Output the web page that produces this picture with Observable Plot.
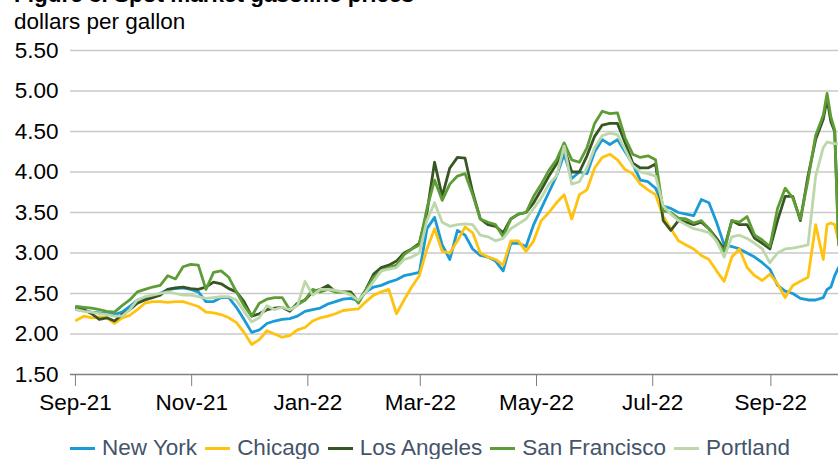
<!DOCTYPE html>
<html>
<head>
<meta charset="utf-8">
<script src="https://cdn.jsdelivr.net/npm/d3@7"></script>
<script src="https://cdn.jsdelivr.net/npm/@observablehq/plot@0.6"></script>
<style>
  html, body { margin: 0; padding: 0; background: #fff; }
  body { width: 838px; height: 459px; position: relative; overflow: hidden; font-family: "Liberation Sans", Arial, sans-serif; }
  #title { position: absolute; left: 14px; top: -17px; font-size: 22.5px; line-height: 24px; font-weight: bold; color: #000; white-space: nowrap; }
  #subtitle { position: absolute; left: 14px; top: 10px; font-size: 22.5px; line-height: 24px; color: #000; white-space: nowrap; }
  #chart { position: absolute; left: 0; top: 35px; }
  #legend { position: absolute; left: 0; width: 860px; top: 436px; display: flex; justify-content: center; font-size: 22.5px; line-height: 24px; color: #44546a; white-space: nowrap; }
  .item { display: flex; align-items: center; margin: 0 4px; }
  .sw { display: inline-block; width: 25px; height: 3px; margin-right: 7px; }
</style>
</head>
<body>
<div id="title">Figure 3. Spot market gasoline prices</div>
<div id="subtitle">dollars per gallon</div>
<div id="chart"></div>
<div id="legend"></div>
<script>
const cities = ["New York", "Chicago", "Los Angeles", "San Francisco", "Portland"];
const colors = ["#1a9ad6", "#ffc20e", "#375623", "#5e9d36", "#bcd8ab"];

const dates = [
  "2021-09-01","2021-09-05","2021-09-09","2021-09-13","2021-09-17","2021-09-21","2021-09-25","2021-09-29",
  "2021-10-03","2021-10-07","2021-10-11","2021-10-15","2021-10-19","2021-10-23","2021-10-27","2021-10-31",
  "2021-11-04","2021-11-08","2021-11-12","2021-11-16","2021-11-20","2021-11-24","2021-11-28",
  "2021-12-02","2021-12-06","2021-12-10","2021-12-14","2021-12-18","2021-12-22","2021-12-26","2021-12-30",
  "2022-01-03","2022-01-07","2022-01-11","2022-01-15","2022-01-19","2022-01-23","2022-01-27","2022-01-31",
  "2022-02-04","2022-02-08","2022-02-12","2022-02-16","2022-02-20","2022-02-24","2022-02-28",
  "2022-03-04","2022-03-08","2022-03-12","2022-03-16","2022-03-20","2022-03-24","2022-03-28",
  "2022-04-01","2022-04-05","2022-04-09","2022-04-13","2022-04-17","2022-04-21","2022-04-25","2022-04-29",
  "2022-05-03","2022-05-07","2022-05-11","2022-05-15","2022-05-19","2022-05-23","2022-05-27","2022-05-31",
  "2022-06-04","2022-06-08","2022-06-12","2022-06-16","2022-06-20","2022-06-24","2022-06-28",
  "2022-07-02","2022-07-06","2022-07-10","2022-07-14","2022-07-18","2022-07-22","2022-07-26","2022-07-30",
  "2022-08-03","2022-08-07","2022-08-11","2022-08-15","2022-08-19","2022-08-23","2022-08-27","2022-08-31",
  "2022-09-04","2022-09-08","2022-09-12","2022-09-16","2022-09-20","2022-09-24","2022-09-28","2022-09-30",
  "2022-10-02","2022-10-04","2022-10-06"
];

const newYork = [
  2.30,2.29,2.27,2.26,2.25,2.24,2.27,2.34,2.42,2.45,
  2.46,2.50,2.55,2.56,2.57,2.55,2.52,2.40,2.40,2.45,
  2.45,2.33,2.18,2.02,2.05,2.13,2.16,2.18,2.19,2.22,
  2.28,2.30,2.32,2.37,2.40,2.43,2.44,2.41,2.52,2.58,
  2.60,2.64,2.67,2.72,2.74,2.76,3.30,3.44,3.10,2.92,
  3.28,3.22,3.05,2.97,2.95,2.90,2.78,3.12,3.12,3.08,
  3.35,3.55,3.75,3.95,4.22,3.92,4.00,3.98,4.25,4.40,
  4.34,4.40,4.25,4.10,3.90,3.88,3.80,3.58,3.55,3.50,
  3.48,3.46,3.66,3.62,3.38,3.10,3.08,3.05,3.00,2.95,
  2.88,2.80,2.60,2.53,2.50,2.44,2.42,2.42,2.45,
  2.55,2.58,2.72,2.82
];
const chicago = [
  2.17,2.22,2.20,2.21,2.20,2.13,2.20,2.23,2.30,2.38,
  2.40,2.40,2.39,2.40,2.40,2.37,2.34,2.27,2.26,2.24,
  2.20,2.14,2.02,1.87,1.93,2.04,2.00,1.96,1.98,2.05,
  2.08,2.16,2.20,2.22,2.25,2.29,2.30,2.31,2.40,2.48,
  2.52,2.55,2.25,2.42,2.58,2.72,3.05,3.30,3.02,3.00,
  3.15,3.32,3.25,3.00,2.95,2.92,2.85,3.15,3.15,3.02,
  3.15,3.40,3.50,3.62,3.72,3.42,3.72,3.78,4.05,4.18,
  4.22,4.15,4.03,3.98,3.85,3.78,3.72,3.45,3.30,3.15,
  3.10,3.05,2.97,2.92,2.78,2.65,2.95,3.05,2.82,2.72,
  2.66,2.74,2.62,2.45,2.60,2.65,2.70,3.35,2.92,
  3.35,3.37,3.35,3.15
];
const losAngeles = [
  2.32,2.30,2.25,2.18,2.20,2.16,2.24,2.30,2.38,2.42,
  2.45,2.48,2.55,2.57,2.58,2.56,2.55,2.58,2.64,2.62,
  2.56,2.52,2.40,2.22,2.25,2.30,2.32,2.33,2.28,2.38,
  2.42,2.52,2.55,2.60,2.52,2.52,2.52,2.40,2.55,2.74,
  2.82,2.85,2.90,3.00,3.05,3.12,3.50,4.12,3.70,4.05,
  4.18,4.17,3.75,3.42,3.35,3.33,3.25,3.42,3.48,3.50,
  3.62,3.78,3.95,4.10,4.30,4.00,4.00,4.20,4.44,4.58,
  4.60,4.60,4.36,4.11,4.05,4.05,4.10,3.40,3.28,3.40,
  3.38,3.35,3.38,3.30,3.18,3.05,3.40,3.35,3.35,3.18,
  3.12,3.05,3.40,3.70,3.70,3.40,3.95,4.40,4.65,
  4.90,4.62,4.50,3.20
];
const sanFrancisco = [
  2.34,2.33,2.32,2.30,2.28,2.27,2.35,2.42,2.52,2.55,
  2.58,2.60,2.72,2.68,2.83,2.86,2.85,2.55,2.76,2.78,
  2.70,2.52,2.35,2.22,2.38,2.43,2.45,2.45,2.30,2.36,
  2.42,2.55,2.52,2.55,2.52,2.52,2.50,2.38,2.54,2.70,
  2.78,2.82,2.85,2.98,3.05,3.10,3.55,3.90,3.65,3.85,
  3.95,3.98,3.72,3.42,3.38,3.35,3.20,3.42,3.48,3.50,
  3.70,3.85,4.02,4.15,4.36,4.15,4.12,4.30,4.60,4.75,
  4.72,4.73,4.42,4.22,4.18,4.20,4.15,3.52,3.50,3.43,
  3.42,3.37,3.40,3.30,3.15,3.02,3.40,3.38,3.45,3.22,
  3.16,3.08,3.55,3.80,3.68,3.42,3.90,4.45,4.70,
  4.97,4.68,4.52,3.10
];
const portland = [
  2.30,2.28,2.27,2.25,2.24,2.22,2.22,2.30,2.42,2.46,
  2.48,2.50,2.52,2.50,2.48,2.48,2.46,2.44,2.45,2.46,
  2.46,2.42,2.28,2.15,2.20,2.35,2.30,2.33,2.30,2.35,
  2.65,2.48,2.55,2.55,2.54,2.52,2.48,2.42,2.52,2.65,
  2.78,2.80,2.82,2.92,2.95,3.00,3.40,3.62,3.38,3.33,
  3.35,3.36,3.35,3.22,3.20,3.15,3.18,3.30,3.36,3.42,
  3.55,3.68,3.85,3.95,4.32,3.85,3.88,4.05,4.30,4.45,
  4.48,4.46,4.28,4.08,4.00,3.98,3.95,3.58,3.48,3.40,
  3.35,3.30,3.28,3.25,3.15,2.95,3.20,3.22,3.18,3.12,
  3.05,2.88,3.00,3.05,3.06,3.08,3.10,3.95,4.30,
  4.37,4.36,4.35,4.35
];

const yTicks = [1.5, 2.0, 2.5, 3.0, 3.5, 4.0, 4.5, 5.0, 5.5];
const xTickDates = ["2021-09-01","2021-11-01","2022-01-01","2022-03-01","2022-05-01","2022-07-01","2022-09-01"];
const xTickLabels = ["Sep-21","Nov-21","Jan-22","Mar-22","May-22","Jul-22","Sep-22"];

const seriesValues = [newYork, chicago, losAngeles, sanFrancisco, portland];
const rows = [];
cities.forEach((city, ci) => {
  seriesValues[ci].forEach((v, i) => rows.push({city, date: new Date(dates[i] + "T12:00:00Z"), value: v}));
});

const tickDates = xTickDates.map(d => new Date(d + "T00:00:00Z"));
const labelMap = new Map(tickDates.map((d, i) => [+d, xTickLabels[i]]));

const chart = Plot.plot({
  width: 838,
  height: 390,
  marginLeft: 70,
  marginRight: 0,
  marginTop: 15,
  marginBottom: 51,
  style: {fontFamily: "'Liberation Sans', Arial, sans-serif", fontSize: "22.5px", color: "#000", background: "transparent", overflow: "visible"},
  x: {type: "utc", domain: [new Date("2021-08-29T10:00:00Z"), new Date("2022-10-06T12:00:00Z")]},
  y: {domain: [1.5, 5.5]},
  color: {domain: cities, range: colors},
  marks: [
    Plot.ruleY(yTicks.filter(d => d > 1.5), {stroke: "#c9c9c9", strokeWidth: 1.5}),
    Plot.axisY({ticks: yTicks, tickFormat: d => d.toFixed(2), tickSize: 0, tickPadding: 12, label: null, fontSize: 22.5, fill: "#000"}),
    Plot.axisX({ticks: tickDates, tickFormat: d => labelMap.get(+d), tickSize: 12, tickPadding: 8, label: null, stroke: "#7f7f7f", fontSize: 22.5, fill: "#000"}),
    Plot.lineY(rows, {x: "date", y: "value", z: "city", stroke: "city", strokeWidth: 2.8}),
    Plot.ruleY([1.5], {stroke: "#7f7f7f", strokeWidth: 1.5})
  ]
});
document.getElementById("chart").appendChild(chart);

const legend = document.getElementById("legend");
cities.forEach((c, i) => {
  const item = document.createElement("span");
  item.className = "item";
  const sw = document.createElement("span");
  sw.className = "sw";
  sw.style.background = colors[i];
  item.appendChild(sw);
  item.appendChild(document.createTextNode(c));
  legend.appendChild(item);
});
</script>
</body>
</html>
